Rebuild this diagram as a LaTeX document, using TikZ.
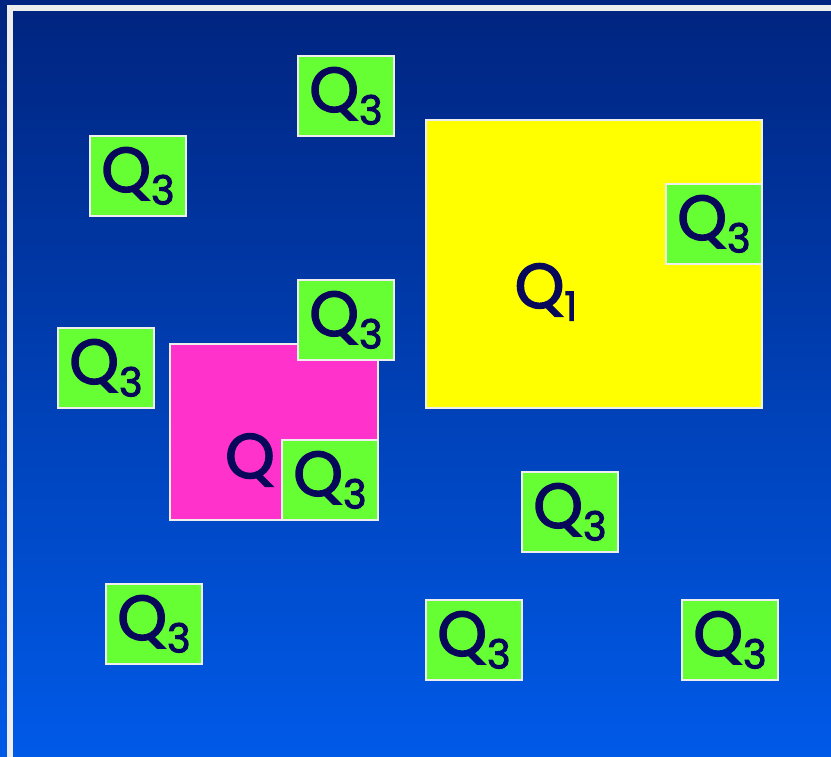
\documentclass[tikz,border=0pt]{standalone}
\usepackage{fontspec}
\setmainfont{Poppins}
\newfontfamily\qfont{Poppins}[FakeBold=2.5]
\usetikzlibrary{positioning}
\definecolor{skyTop}{HTML}{00247F}
\definecolor{skyBottom}{HTML}{005AE8}
\definecolor{frameWhite}{HTML}{EEEEEE}
\definecolor{inkNavy}{HTML}{08085A}
\definecolor{leafGreen}{HTML}{66FF33}
\definecolor{sunYellow}{HTML}{FFFF00}
\definecolor{pinkRegion}{HTML}{FF33CC}
\newcommand{\qname}[1]{Q\raisebox{-0.2em}{\fontsize{40}{40}\selectfont #1}}
\tikzset{
  region/.style = {rectangle, draw=frameWhite, line width=1.5pt,
                   inner sep=0pt, text=inkNavy,
                   font=\qfont\fontsize{63}{63}\selectfont},
  quad/.style   = {region, fill=leafGreen,
                   minimum width=96pt, minimum height=80pt},
  big/.style    = {region, fill=sunYellow,
                   minimum width=336pt, minimum height=288pt},
  mid/.style    = {region, fill=pinkRegion,
                   minimum width=208pt, minimum height=176pt},
  tag/.style    = {inner sep=0pt, text=inkNavy,
                   font=\qfont\fontsize{63}{63}\selectfont}
}

\begin{document}
\begin{tikzpicture}[x=1pt, y=-1pt]
\useasboundingbox (0,0) rectangle (831,757);
\shade[top color=skyTop, bottom color=skyBottom] (0,0) rectangle (831,757);
\draw[frameWhite, line width=6pt] (10,757) -- (10,8) -- (831,8);

\node[big] (q1) at (594,264) {};
\node[tag] (q1tag) at (546,292) {\qname{1}};
\node[mid] (q2) at (274,432) {};
\node[tag] (q2tag) at (250,460) {Q};

\node[quad] (a) at (346,96)  {\qname{3}};
\node[quad] (b) at (138,176) {\qname{3}};
\node[quad] (c) at (714,224) {\qname{3}};
\node[quad] (d) at (346,320) {\qname{3}};
\node[quad] (e) at (106,368) {\qname{3}};
\node[quad] (f) at (330,480) {\qname{3}};
\node[quad] (g) at (570,512) {\qname{3}};
\node[quad] (h) at (154,624) {\qname{3}};
\node[quad] (i) at (474,640) {\qname{3}};
\node[quad] (j) at (730,640) {\qname{3}};
\end{tikzpicture}
\end{document}
